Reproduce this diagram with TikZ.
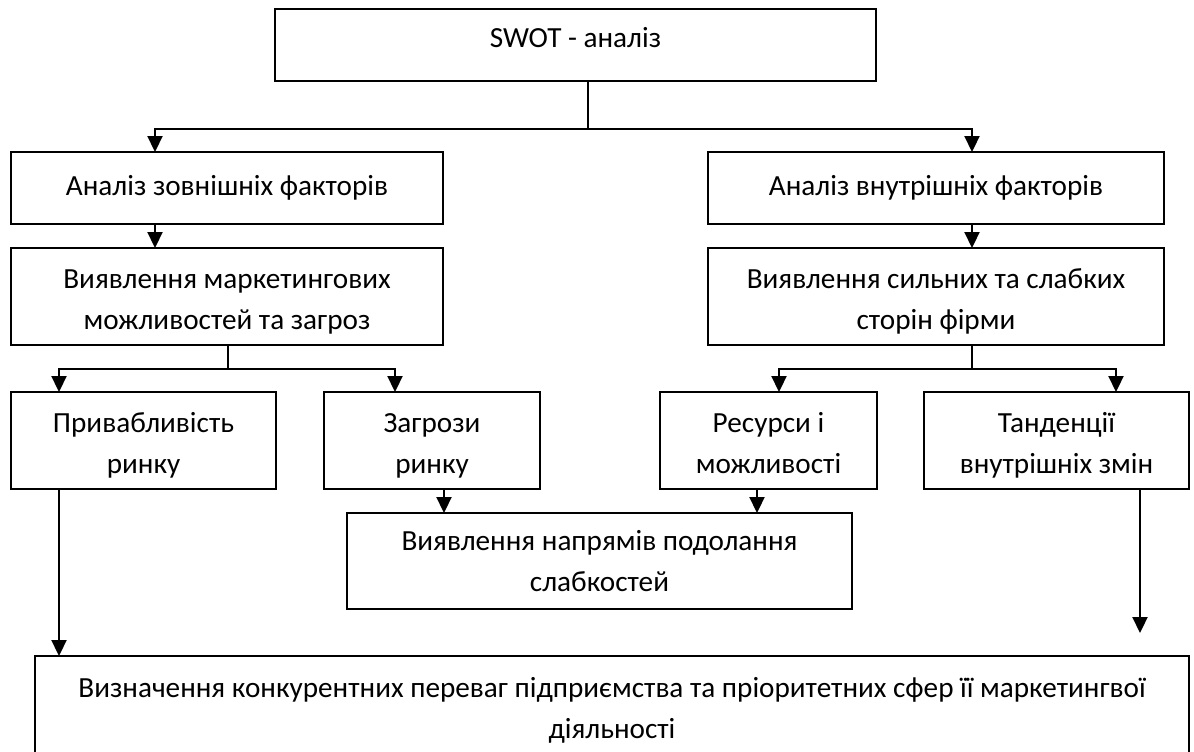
\documentclass[tikz,border=0pt]{standalone}
\usepackage{fontspec}
\setmainfont{Carlito}
\usetikzlibrary{arrows.meta}

\begin{document}
\begin{tikzpicture}[x=0.5pt,y=-0.5pt,
  box/.style={draw,line width=1.1pt,inner sep=0pt,outer sep=0pt,align=center,
    font=\fontsize{14.6}{20.5}\selectfont},
  twoline/.style={box,text height=35.5pt,text depth=3pt},
  arr/.style={line width=1.1pt,-{Triangle[width=7.5pt,length=8pt]}}]
\useasboundingbox (0,0) rectangle (1194,751);

\node[box,minimum width=300.5pt,minimum height=36pt,text height=10pt,text depth=7.2pt] (swot) at (575.5,45) {SWOT - аналіз};
\node[box,minimum width=216pt,minimum height=36pt] (ext) at (227,188) {Аналіз зовнішніх факторів};
\node[box,minimum width=228pt,minimum height=36pt] (int) at (936,188) {Аналіз внутрішніх факторів};
\node[twoline,minimum width=216pt,minimum height=48.5pt] (extid) at (227,296.5) {Виявлення маркетингових\\можливостей та загроз};
\node[twoline,minimum width=228pt,minimum height=48.5pt] (intid) at (936,296.5) {Виявлення сильних та слабких\\сторін фірми};
\node[twoline,minimum width=132.5pt,minimum height=48.5pt] (attr) at (143.5,440.5) {Привабливість\\ринку};
\node[twoline,minimum width=108pt,minimum height=48.5pt] (threat) at (432,440.5) {Загрози\\ринку};
\node[twoline,minimum width=108.5pt,minimum height=48.5pt] (res) at (768.5,440.5) {Ресурси і\\можливості};
\node[twoline,minimum width=132.5pt,minimum height=48.5pt] (trend) at (1056.5,440.5) {Танденції\\внутрішніх змін};
\node[box,minimum width=252.5pt,minimum height=48pt,text height=33pt,text depth=3pt] (weak) at (599.5,561) {Виявлення напрямів подолання\\слабкостей};
\node[box,minimum width=577pt,minimum height=54pt] (final) at (612,710) {Визначення конкурентних переваг підприємства та пріоритетних сфер її маркетингвої\\діяльності};

\coordinate (swotfork) at (588,129);
\coordinate (extfork) at (228,369);
\coordinate (intfork) at (972,369);
\coordinate (trendend) at (1140,633);

% SWOT splits into the two kinds of factors
\draw[line width=1.1pt] (swot.south -| swotfork) -- (swotfork);
\draw[arr] (swotfork) -| ([xshift=-36pt]ext.north);
\draw[arr] (swotfork) -| ([xshift=18pt]int.north);
\draw[arr] ([xshift=-36pt]ext.south) -- ([xshift=-36pt]extid.north);
\draw[arr] ([xshift=18pt]int.south) -- ([xshift=18pt]intid.north);

% second level forks
\draw[line width=1.1pt] (extid.south -| extfork) -- (extfork);
\draw[arr] (extfork) -| ([xshift=-42.25pt]attr.north);
\draw[arr] (extfork) -| ([xshift=-18.5pt]threat.north);
\draw[line width=1.1pt] (intid.south -| intfork) -- (intfork);
\draw[arr] (intfork) -| ([xshift=5.25pt]res.north);
\draw[arr] (intfork) -| ([xshift=29.75pt]trend.north);

\draw[arr] ([xshift=6pt]threat.south) -- ([xshift=6pt]threat.south |- weak.north);
\draw[arr] ([xshift=-5.75pt]res.south) -- ([xshift=-5.75pt]res.south |- weak.north);
\draw[arr] ([xshift=-42.25pt]attr.south) -- ([xshift=-42.25pt]attr.south |- final.north);
\draw[arr] ([xshift=41.75pt]trend.south) -- (trendend);

\end{tikzpicture}
\end{document}
